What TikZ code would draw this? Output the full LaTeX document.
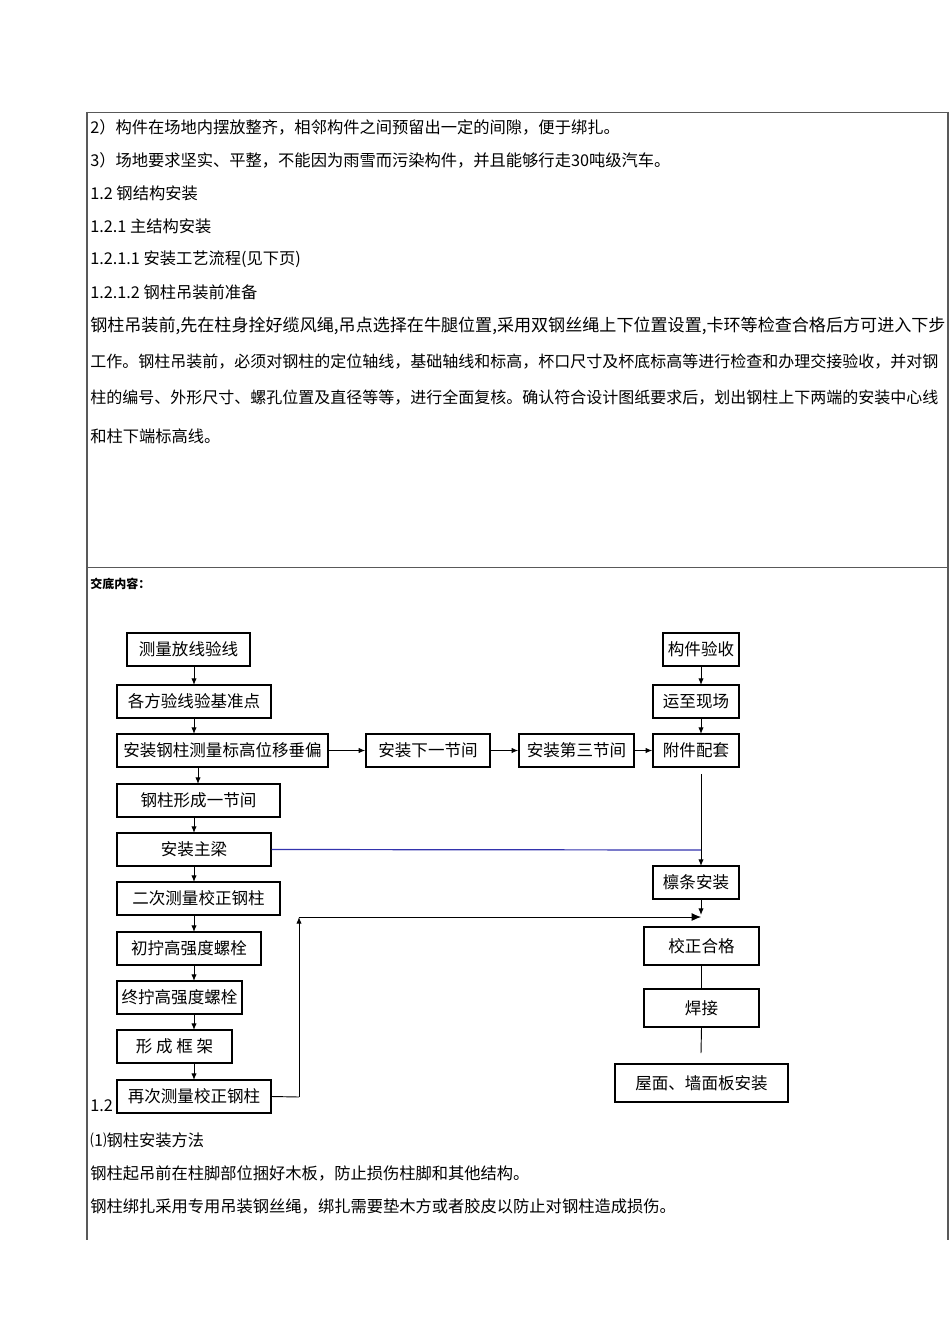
\documentclass[tikz,border=0pt]{standalone}
\usepackage{fontspec}
\setmainfont{Noto Sans CJK SC}
\usetikzlibrary{arrows.meta}
\begin{document}
\begin{tikzpicture}[x=0.75pt,y=-0.75pt,
  bx/.style={draw,line width=1.1pt,inner sep=0pt,font=\fontsize{12.4}{13}\selectfont},
  ln/.style={anchor=west,inner sep=0pt,font=\fontsize{12.2}{13}\selectfont},
  ar/.style={-{Latex[length=5pt,width=4pt]},line width=0.7pt},
  pl/.style={line width=0.7pt}]
\useasboundingbox (0,0) rectangle (950,1344);
% frame
\draw[line width=0.6pt,gray!70!black] (87,112) -- (948,112);
\draw[line width=0.6pt,gray!70!black] (87,567) -- (948,567);
\draw[line width=0.8pt,gray!70!black] (87,112) -- (87,1240);
\draw[line width=0.8pt,gray!70!black] (948,112) -- (948,1240);
% text
\node[ln] (t1) at (90,127) {2）构件在场地内摆放整齐，相邻构件之间预留出一定的间隙，便于绑扎。};
\node[ln] (t2) at (90,160) {3）场地要求坚实、平整，不能因为雨雪而污染构件，并且能够行走30吨级汽车。};
\node[ln] (t3) at (90,193) {1.2 钢结构安装};
\node[ln] (t4) at (90,226) {1.2.1 主结构安装};
\node[ln] (t5) at (90,259) {1.2.1.1 安装工艺流程(见下页)};
\node[ln] (t6) at (90,292) {1.2.1.2 钢柱吊装前准备};
\node[ln,font=\fontsize{12.8}{13}\selectfont] (t7) at (90,326) {钢柱吊装前,先在柱身拴好缆风绳,吊点选择在牛腿位置,采用双钢丝绳上下位置设置,卡环等检查合格后方可进入下步};
\node[ln,font=\fontsize{12.0}{13}\selectfont] (t8) at (90,362) {工作。钢柱吊装前，必须对钢柱的定位轴线，基础轴线和标高，杯口尺寸及杯底标高等进行检查和办理交接验收，并对钢};
\node[ln,font=\fontsize{12.0}{13}\selectfont] (t9) at (90,398) {柱的编号、外形尺寸、螺孔位置及直径等等，进行全面复核。确认符合设计图纸要求后，划出钢柱上下两端的安装中心线};
\node[ln] (t10) at (90,436) {和柱下端标高线。};
\node[ln,font=\bfseries\fontsize{9}{10}\selectfont] (jd) at (90,584) {交底内容：};
\node[ln] (n12) at (90,1106) {1.2};
\node[ln] (b1) at (90,1140) {⑴钢柱安装方法};
\node[ln] (b2) at (90,1173) {钢柱起吊前在柱脚部位捆好木板，防止损伤柱脚和其他结构。};
\node[ln] (b3) at (90,1206) {钢柱绑扎采用专用吊装钢丝绳，绑扎需要垫木方或者胶皮以防止对钢柱造成损伤。};
% boxes
\newcommand\bxat[6]{\node[bx,minimum width=(#3-#2)*0.75pt,minimum height=(#5-#4)*0.75pt] (#1) at ({(#2+#3)/2},{(#4+#5)/2}) {#6};}
\bxat{A}{127}{250}{633}{666}{测量放线验线}
\bxat{B}{117}{271}{685}{718}{各方验线验基准点}
\bxat{C}{117}{328}{734}{767}{安装钢柱测量标高位移垂偏}
\bxat{D}{117}{280}{784}{817}{钢柱形成一节间}
\bxat{E}{117}{271}{833}{866}{安装主梁}
\bxat{F}{117}{280}{882}{915}{二次测量校正钢柱}
\bxat{G}{117}{261}{932}{965}{初拧高强度螺栓}
\bxat{H}{117}{242}{981}{1014}{终拧高强度螺栓}
\bxat{I}{117}{232}{1030}{1063}{形\ 成\ 框\ 架}
\bxat{J}{117}{271}{1080}{1113}{再次测量校正钢柱}
\bxat{K}{366}{490}{734}{767}{安装下一节间}
\bxat{L}{519}{634}{734}{767}{安装第三节间}
\bxat{M}{653}{739}{734}{767}{附件配套}
\bxat{N}{663}{739}{633}{666}{构件验收}
\bxat{O}{653}{739}{685}{718}{运至现场}
\bxat{P}{653}{739}{866}{899}{檩条安装}
\bxat{Q}{644}{759}{927}{965}{校正合格}
\bxat{R}{644}{759}{989}{1027}{焊接}
\bxat{S}{615}{788}{1064}{1102}{屋面、墙面板安装}
% arrows
\draw[ar] (194,666) -- (194,685);
\draw[ar] (194,718) -- (194,734);
\draw[ar] (198,767) -- (198,784);
\draw[ar] (194,817) -- (194,833);
\draw[ar] (194,866) -- (194,882);
\draw[ar] (194,915) -- (194,932);
\draw[ar] (194,965) -- (194,981);
\draw[ar] (194,1014) -- (194,1030);
\draw[ar] (194,1063) -- (194,1080);
\draw[ar] (C.east) -- (K.west);
\draw[ar] (K.east) -- (L.west);
\draw[ar] (L.east) -- (M.west);
\draw[ar] (701,666) -- (701,685);
\draw[ar] (701,718) -- (701,734);
\coordinate (m1) at (701,774);
\coordinate (m2) at (701,850);
\coordinate (p0) at (701,866);
\coordinate (p00) at (701,899);
\draw[ar] (m1) -- (p0);
\draw[line width=0.9pt,blue!60!black!80] (E.east) -- (m2);
\coordinate (p1) at (701,915);
\draw[ar] (p00) -- (p1);
\coordinate (j1) at (299,1097);
\coordinate (j2) at (299,917);
\coordinate (j3) at (701,917);
\draw[pl] (J.east) -- (j1);
\draw[ar] (j1) -- (j2);
\draw[-{Latex[length=7pt,width=6pt]},line width=0.7pt] (j2) -- (j3);
\draw[pl] (Q.south) -- (R.north);
\coordinate (r1) at (701,1053);
\draw[pl] (R.south) -- (r1);
\end{tikzpicture}
\end{document}
